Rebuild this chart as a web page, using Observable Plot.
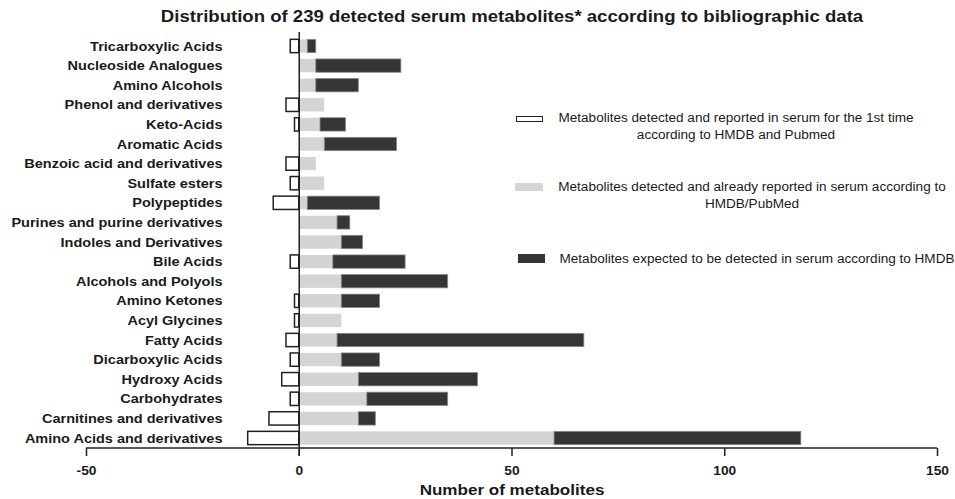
<!DOCTYPE html>
<html>
<head>
<meta charset="utf-8">
<script src="https://cdn.jsdelivr.net/npm/d3@7"></script>
<script src="https://cdn.jsdelivr.net/npm/@observablehq/plot@0.6"></script>
<style>
  body { margin: 0; background: #fff; }
  #wrap { position: relative; width: 955px; height: 499px; font-family: "Liberation Sans", Arial, sans-serif; color: #1a1a1a; }
  #wrap svg { position: absolute; left: 0; top: 0; }
  .title { position: absolute; top: 8px; left: 512px; transform: translateX(-50%) scaleX(1.16); white-space: nowrap; font-weight: bold; font-size: 16px; }
  .xlabel { position: absolute; top: 481px; left: 512px; transform: translateX(-50%) scaleX(1.1); white-space: nowrap; font-weight: bold; font-size: 15.5px; }
  .sw { position: absolute; box-sizing: border-box; }
  .lt { position: absolute; text-align: center; font-size: 12.5px; line-height: 17.5px; white-space: nowrap; transform: scaleX(1.085); }
  g[aria-label="x-axis tick label"] text, g[aria-label="y-axis tick label"] text { font-weight: bold; }
</style>
</head>
<body>
<div id="wrap">
  <div class="title">Distribution of 239 detected serum metabolites* according to bibliographic data</div>
  <div class="xlabel">Number of metabolites</div>
</div>
<script>
const categories = ["Tricarboxylic Acids","Nucleoside Analogues","Amino Alcohols","Phenol and derivatives","Keto-Acids","Aromatic Acids","Benzoic acid and derivatives","Sulfate esters","Polypeptides","Purines and purine derivatives","Indoles and Derivatives","Bile Acids","Alcohols and Polyols","Amino Ketones","Acyl Glycines","Fatty Acids","Dicarboxylic Acids","Hydroxy Acids","Carbohydrates","Carnitines and derivatives","Amino Acids and derivatives"];
const firstTime = [2,0,0,3,1,0,3,2,6,0,0,2,0,1,1,3,2,4,2,7,12];
const alreadyReported = [2,4,4,6,5,6,4,6,2,9,10,8,10,10,10,9,10,14,16,14,60];
const expectedHMDB = [2,20,10,0,6,17,0,0,17,3,5,17,25,9,0,58,9,28,19,4,58];
const xTicks = [-50,0,50,100,150];
const legendLabels = [
  ["Metabolites detected and reported in serum for the 1st time","according to HMDB and Pubmed"],
  ["Metabolites detected and already reported in serum according to","HMDB/PubMed"],
  ["Metabolites expected to be detected in serum according to HMDB"]
];

const rows = categories.map((c, i) => ({cat: c, first: firstTime[i], already: alreadyReported[i], expected: expectedHMDB[i]}));

const W = 955, H = 499, mT = 36, mB = 51, mL = 86, mR = 18;
const chart = Plot.plot({
  width: W, height: H,
  marginTop: mT, marginBottom: mB, marginLeft: mL, marginRight: mR,
  style: {fontFamily: '"Liberation Sans", Arial, sans-serif', color: "#1a1a1a", background: "transparent"},
  x: {domain: [-50, 150]},
  y: {domain: categories, paddingInner: 0.32, paddingOuter: 0.17, round: false},
  marks: [
    Plot.barX(rows.filter(d => d.already > 0), {y: "cat", x1: 0, x2: d => d.already, fill: "#d4d4d4"}),
    Plot.barX(rows.filter(d => d.expected > 0), {y: "cat", x1: d => d.already, x2: d => d.already + d.expected, fill: "#353535", stroke: "#8a8a8a", strokeWidth: 0.8}),
    Plot.barX(rows.filter(d => d.first > 0), {y: "cat", x1: d => -d.first, x2: 0, fill: "white", stroke: "#222", strokeWidth: 1.5}),
    Plot.ruleX([0], {stroke: "#222", strokeWidth: 1.5, insetTop: -4, insetBottom: -8}),
    Plot.axisX({ticks: xTicks, tickFormat: d => String(d), tickSize: 8, tickPadding: 10, fontSize: 12.5, label: null, stroke: "#222", strokeWidth: 1.5}),
    Plot.axisY({tickSize: 0, tickPadding: 3, dx: 139, fontSize: 13, label: null})
  ]
});
const wrap = document.getElementById("wrap");
wrap.appendChild(chart);
const xs = chart.scale("x");
d3.select(chart).append("line")
  .attr("x1", xs.apply(-50)).attr("x2", xs.apply(150))
  .attr("y1", H - mB).attr("y2", H - mB)
  .attr("stroke", "#222").attr("stroke-width", 1.5);

// widen axis text slightly to match the reference's horizontal proportions
function stretch(sel, k) {
  d3.select(chart).selectAll(sel).each(function() {
    const len = this.getComputedTextLength();
    this.setAttribute("textLength", len * k);
    this.setAttribute("lengthAdjust", "spacingAndGlyphs");
  });
}
stretch('g[aria-label="y-axis tick label"] text', 1.115);
stretch('g[aria-label="x-axis tick label"] text', 1.1);

// legend
const swatches = [
  {left: 516, top: 116, w: 27, h: 6, bg: "#fff", border: "1.5px solid #222"},
  {left: 515, top: 183, w: 28, h: 8, bg: "#d4d4d4", border: "none"},
  {left: 518, top: 254, w: 27, h: 9, bg: "#353535", border: "none"}
];
const texts = [
  {left: 556, top: 109.5, w: 360},
  {left: 551, top: 178.5, w: 402},
  {left: 557, top: 250.5, w: 400}
];
swatches.forEach((s, i) => {
  const d = document.createElement("div");
  d.className = "sw";
  Object.assign(d.style, {left: s.left + "px", top: s.top + "px", width: s.w + "px", height: s.h + "px", background: s.bg, border: s.border});
  wrap.appendChild(d);
  const t = document.createElement("div");
  t.className = "lt";
  Object.assign(t.style, {left: texts[i].left + "px", top: texts[i].top + "px", width: texts[i].w + "px"});
  t.innerHTML = legendLabels[i].join("<br>");
  wrap.appendChild(t);
});
</script>
</body>
</html>
